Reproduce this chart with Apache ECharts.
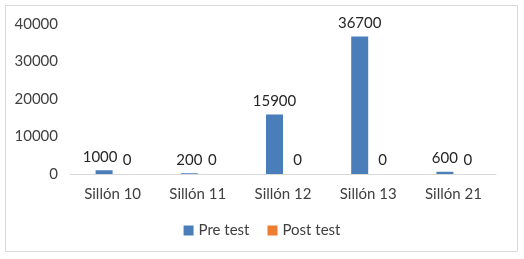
<!DOCTYPE html>
<html><head><meta charset="utf-8">
<script src="https://cdn.jsdelivr.net/npm/echarts@6/dist/echarts.min.js"></script>
<style>html,body{margin:0;padding:0;background:#fff}#c{width:524px;height:259px}</style>
</head><body><div id="c"></div>
<script>
const categories = ['Sillón 10','Sillón 11','Sillón 12','Sillón 13','Sillón 21'];
const preTest = [1000, 200, 15900, 36700, 600];
const postTest = [0, 0, 0, 0, 0];
const seriesNames = ['Pre test','Post test'];
const chart = echarts.init(document.getElementById('c'));
const font = 'Lato, sans-serif';
const preData = preTest.map((v,i)=> i===0 ? {value:v,label:{offset:[-4,0]}} : v);
chart.setOption({
  animation:false,
  graphic:[{type:'rect',shape:{x:5.5,y:5.5,width:512,height:246},style:{fill:'none',stroke:'#d9d9d9',lineWidth:1}}],
  grid:{left:70,right:28,top:24,bottom:85,containLabel:false},
  legend:{bottom:16,left:'center',itemWidth:10,itemHeight:10,itemGap:18,icon:'rect',
    textStyle:{fontFamily:font,fontSize:15,color:'#404040'},data:seriesNames},
  xAxis:{type:'category',data:categories,axisTick:{show:false},
    axisLine:{lineStyle:{color:'#d9d9d9'}},
    axisLabel:{fontFamily:font,fontSize:15,color:'#404040',margin:13}},
  yAxis:{type:'value',min:0,max:40000,interval:10000,splitLine:{show:false},
    axisLabel:{fontFamily:font,fontSize:15,color:'#404040',margin:12,formatter:v=>String(v)}},
  series:[
    {name:seriesNames[0],type:'bar',data:preData,barWidth:17,barGap:'0%',itemStyle:{color:'#4a7ebb'},
     label:{show:true,position:'top',fontFamily:font,fontSize:15,color:'#262626',distance:6}},
    {name:seriesNames[1],type:'bar',data:postTest,barWidth:17,itemStyle:{color:'#ed7d31'},
     label:{show:true,position:'top',fontFamily:font,fontSize:15,color:'#262626',distance:6,offset:[6,0]}}
  ]
});
</script></body></html>
